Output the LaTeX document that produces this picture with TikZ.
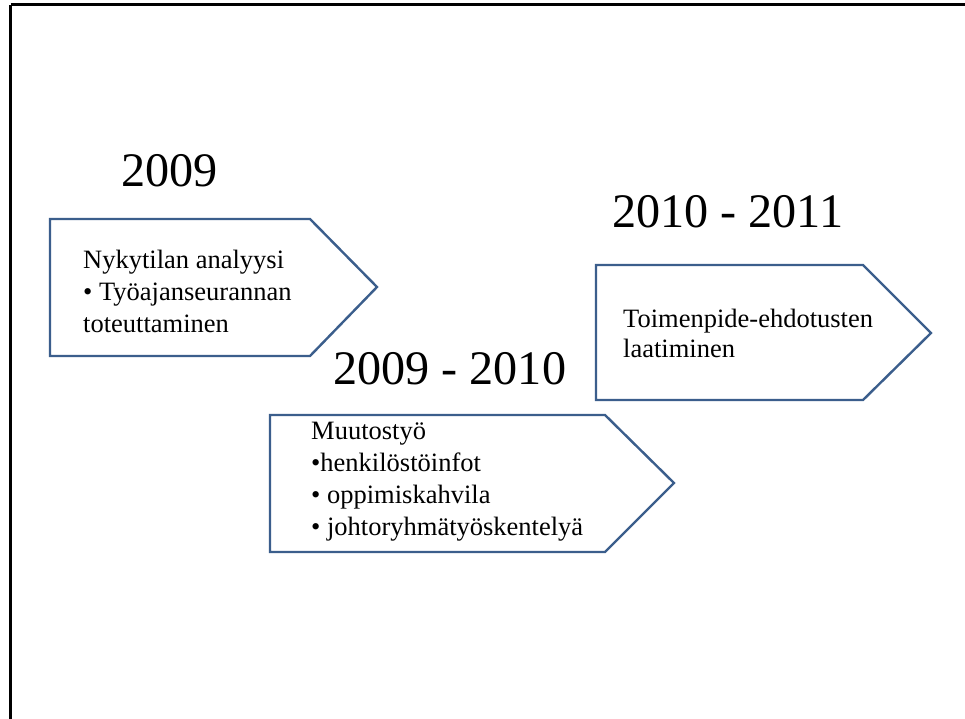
\documentclass[tikz,border=0pt]{standalone}
\usepackage{fontspec}
\setmainfont{Liberation Serif}
\definecolor{outl}{HTML}{3B5E8C}
\begin{document}
\begin{tikzpicture}[x=1pt,y=-1pt,
  frame/.style={line width=2.8pt,black},
  arrowbox/.style={draw=outl,line width=2.4pt,fill=white,line join=miter},
  yeartxt/.style={anchor=base west,inner sep=0pt,font=\fontsize{48.2}{55}\selectfont},
  boxtxt/.style={anchor=base west,inner sep=0pt,font=\fontsize{26.5}{31}\selectfont}]
\useasboundingbox (0,0) rectangle (965,719);
\fill[white] (0,0) rectangle (965,719);
% frame
\draw[frame] (10.5,4.8) -- (965,4.8);
\draw[frame] (10.5,4.8) -- (10.5,719);
% arrow shapes
\draw[arrowbox] (50,219) -- (310,219) -- (377,287) -- (310,356) -- (50,356) -- cycle;
\draw[arrowbox] (270,415) -- (605,415) -- (674,483) -- (605,552) -- (270,552) -- cycle;
\draw[arrowbox] (596,265) -- (863,265) -- (931,333) -- (863,400) -- (596,400) -- cycle;
% years
\node[yeartxt] (y1) at (121,187) {2009};
\node[yeartxt] (y2) at (333,384) {2009 - 2010};
\node[yeartxt] (y3) at (612,228) {2010 - 2011};
% box 1
\node[boxtxt] (a1) at (83,268) {Nykytilan analyysi};
\node[boxtxt] (a2) at (83,300) {• Työajanseurannan};
\node[boxtxt] (a3) at (83,332) {toteuttaminen};
% box 2
\node[boxtxt] (b1) at (311,439) {Muutostyö};
\node[boxtxt] (b2) at (311,471) {•henkilöstöinfot};
\node[boxtxt] (b3) at (311,503) {• oppimiskahvila};
\node[boxtxt] (b4) at (311,535) {• johtoryhmätyöskentelyä};
% box 3
\node[boxtxt] (c1) at (623,327) {Toimenpide-ehdotusten};
\node[boxtxt] (c2) at (623,357) {laatiminen};
\end{tikzpicture}
\end{document}
